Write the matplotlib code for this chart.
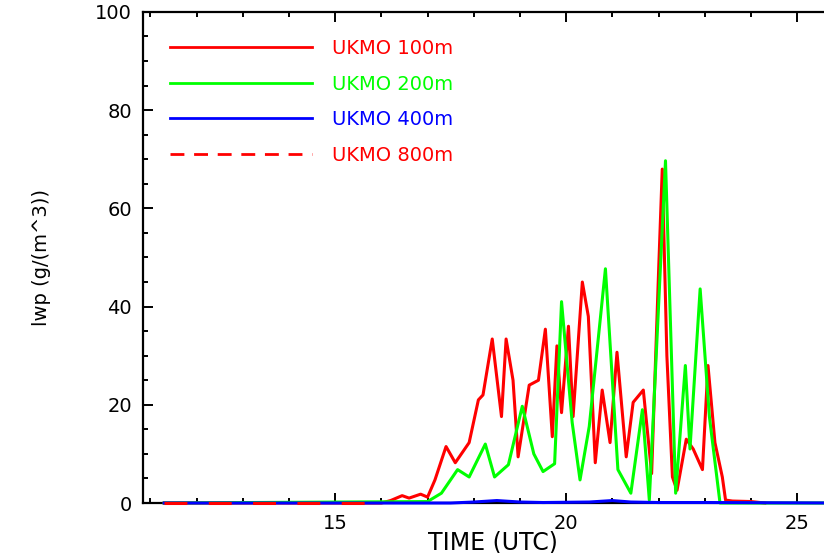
#!/usr/bin/env python3
"""Liquid water path time series for four UKMO resolutions."""

import matplotlib

matplotlib.use("Agg")
import matplotlib.pyplot as plt
from matplotlib.lines import Line2D
from matplotlib.ticker import MultipleLocator

# hand-read values (time in UTC hours, lwp in g/m^3)
t_100 = [11.3, 16.0, 16.2, 16.45, 16.6, 16.85, 17.0, 17.16, 17.4, 17.6, 17.9,
         18.1, 18.2, 18.4, 18.6, 18.7, 18.85, 18.96, 19.2, 19.4, 19.55, 19.7,
         19.8, 19.9, 20.05, 20.15, 20.35, 20.48, 20.63, 20.78, 20.95, 21.1,
         21.3, 21.45, 21.67, 21.85, 22.0, 22.08, 22.18, 22.3, 22.4, 22.6,
         22.75, 22.95, 23.07, 23.22, 23.38, 23.45, 23.6, 24.0, 24.3]
lwp_100 = [0, 0, 0.5, 1.5, 1.0, 1.8, 1.2, 4.7, 11.5, 8.2, 12.3,
           21, 22, 33.4, 17.6, 33.4, 25, 9.4, 24, 25, 35.4, 13.5,
           32, 18.4, 36, 17.6, 45, 38, 8.2, 23, 12.3, 30.7,
           9.4, 20.5, 23, 6, 47, 68, 30, 5.3, 2.6, 13,
           11, 6.8, 28, 12.3, 5.3, 0.6, 0.4, 0.3, 0]

t_200 = [11.3, 17.0, 17.3, 17.65, 17.9, 18.25, 18.45, 18.75, 19.05, 19.3,
         19.5, 19.75, 19.9, 20.13, 20.3, 20.5, 20.85, 21.12, 21.4, 21.65,
         21.8, 22.15, 22.37, 22.58, 22.68, 22.9, 23.1, 23.33, 26.0]
lwp_200 = [0, 0.3, 2, 6.8, 5.3, 12, 5.3, 7.8, 19.7, 10,
           6.4, 8, 41, 16.4, 4.7, 15.6, 47.7, 6.8, 2, 19,
           0.6, 69.7, 2, 28, 11, 43.6, 17.6, 0, 0]

t_400 = [11.3, 17.5, 18.0, 18.5, 19.0, 19.5, 20.5, 21.0, 21.4, 22.0, 23.0, 26.0]
lwp_400 = [0, 0, 0.2, 0.5, 0.2, 0.1, 0.2, 0.5, 0.2, 0.1, 0.1, 0]

t_800 = [11.3, 16.0]
lwp_800 = [0, 0]

SERIES = [
    (t_100, lwp_100, "UKMO 100m", "#ff0000", "-"),
    (t_200, lwp_200, "UKMO 200m", "#00ff00", "-"),
    (t_400, lwp_400, "UKMO 400m", "#0000ff", "-"),
    (t_800, lwp_800, "UKMO 800m", "#ff0000", "--"),
]


def main():
    plt.rcParams["font.family"] = ["DejaVu Sans"]
    fig = plt.figure(figsize=(8.24, 5.53), dpi=100)
    ax = fig.add_axes([0.1735, 0.0904, 0.85, 0.888])

    handles = []
    for t, v, label, color, ls in SERIES:
        (ln,) = ax.plot(t, v, color=color, linewidth=2.2, linestyle=ls,
                        clip_on=False, zorder=3)
        if ls == "--":
            ln.set_dashes((7.5, 7))
        handles.append(Line2D([], [], color=color, linewidth=2.0,
                              linestyle=ls))
    handles[-1].set_dashes((5.0, 3.5))

    ax.set_xlim(10.84, 26.0)
    ax.set_ylim(0, 100)
    ax.xaxis.set_major_locator(MultipleLocator(5))
    ax.xaxis.set_minor_locator(MultipleLocator(1))
    ax.yaxis.set_major_locator(MultipleLocator(20))
    ax.yaxis.set_minor_locator(MultipleLocator(5))
    ax.tick_params(which="both", direction="in", top=True, right=False,
                   width=1.4, labelsize=14, color="black")
    ax.tick_params(which="major", length=7, pad=8)
    ax.tick_params(which="minor", length=3.6)
    for s in ax.spines.values():
        s.set_linewidth(1.6)

    ax.set_xlabel("TIME (UTC)", fontsize=17, labelpad=-2)
    ax.set_ylabel("lwp (g/(m^3))", fontsize=14, labelpad=32)

    leg = ax.legend(handles, [s[2] for s in SERIES], loc="upper left",
                    bbox_to_anchor=(0.0, 1.0), frameon=False, fontsize=14,
                    handlelength=7.3, handletextpad=1.0, labelspacing=0.85,
                    borderaxespad=1.0)
    for txt, s in zip(leg.get_texts(), SERIES):
        txt.set_color(s[3])

    fig.savefig("out.png", dpi=100)
    plt.close(fig)


if __name__ == "__main__":
    main()
